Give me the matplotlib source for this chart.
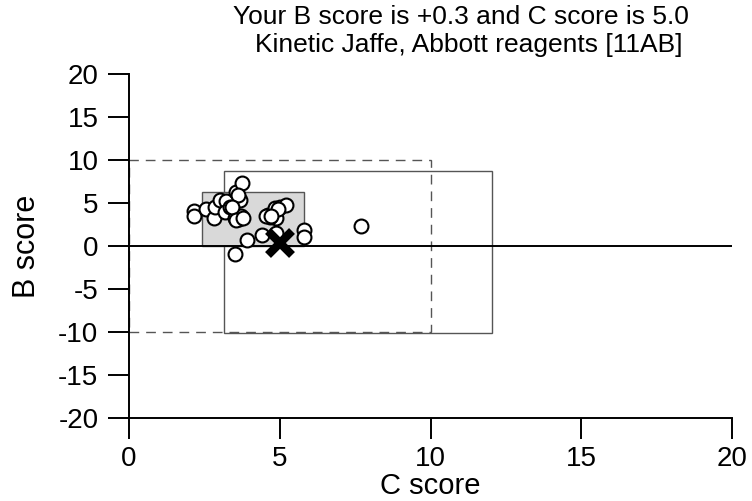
import matplotlib
matplotlib.use("Agg")
import matplotlib.pyplot as plt
from matplotlib.patches import Rectangle

plt.rcParams['font.family'] = ['Liberation Sans', 'DejaVu Sans']

# Peer results (C score, B score)
c_scores = [7.68, 3.53, 3.90, 4.41, 5.81, 5.80, 4.89,
            4.61, 4.83, 5.00, 5.22, 4.89, 4.67, 4.56, 4.94, 4.72,
            2.15, 2.15, 2.55, 2.81, 2.85, 3.01, 3.23, 3.18, 3.34,
            3.56, 3.76, 3.68, 3.51, 3.65, 3.73, 3.62, 3.40, 3.56, 3.78]
b_scores = [2.33, -0.93, 0.73, 1.28, 1.86, 1.08, 1.47,
            3.60, 4.38, 4.57, 4.77, 3.20, 3.40, 3.49, 4.26, 3.49,
            4.07, 3.49, 4.26, 3.20, 4.57, 5.35, 5.23, 3.99, 4.57,
            6.31, 7.36, 5.35, 3.20, 3.14, 3.49, 5.93, 4.57, 3.02, 3.20]

# Own result
own_c = 5.0
own_b = 0.3

# Acceptance limits (dashed), method group range (solid), middle region (grey)
limit_c = (0, 10)
limit_b = (-10, 10)
group_c = (3.15, 12.05)
group_b = (-10.1, 8.7)
core_c = (2.42, 5.8)
core_b = (0.0, 6.28)

x_ticks = [0, 5, 10, 15, 20]
y_ticks = [20, 15, 10, 5, 0, -5, -10, -15, -20]

fig = plt.figure(figsize=(7.52, 5.01), dpi=100)
ax = fig.add_axes([129 / 752, 1 - 418 / 501, (732 - 129) / 752, (418 - 74) / 501])

ax.add_patch(Rectangle((limit_c[0], limit_b[0]), limit_c[1] - limit_c[0], limit_b[1] - limit_b[0],
                       fill=False, edgecolor='#555555', lw=1.0, ls=(0, (7, 5)), zorder=1))
ax.add_patch(Rectangle((group_c[0], group_b[0]), group_c[1] - group_c[0], group_b[1] - group_b[0],
                       fill=False, edgecolor='#555555', lw=1.0, zorder=1))
ax.add_patch(Rectangle((core_c[0], core_b[0]), core_c[1] - core_c[0], core_b[1] - core_b[0],
                       facecolor='#d9d9d9', edgecolor='#555555', lw=1.0, zorder=2))
ax.axhline(0, color='black', lw=1.4, zorder=3)

ax.plot(c_scores, b_scores, 'o', ms=10, mfc='white', mec='black', mew=1.5,
        zorder=4, clip_on=False)
ax.plot([own_c], [own_b], 'x', ms=17, mec='black', mew=6, zorder=5)

ax.set_xlim(0, 20)
ax.set_ylim(-20, 20)
ax.set_xticks(x_ticks)
ax.set_yticks(y_ticks)
ax.set_xticklabels([str(t) for t in x_ticks])
ax.set_yticklabels([str(t) for t in y_ticks])

for side in ('top', 'right'):
    ax.spines[side].set_visible(False)
for side in ('left', 'bottom'):
    ax.spines[side].set_linewidth(1.4)
ax.tick_params(direction='out', length=15, width=1.4, labelsize=20)
ax.tick_params(axis='y', pad=7)
ax.tick_params(axis='x', pad=5)

ax.set_xlabel('C score', fontsize=21, labelpad=0)
ax.set_ylabel('B score', fontsize=22, labelpad=12)

fig.text(461 / 752, 1 - 17 / 501, 'Your B score is +0.3 and C score is 5.0',
         ha='center', va='center', fontsize=19)
fig.text(469 / 752, 1 - 45 / 501, 'Kinetic Jaffe, Abbott reagents [11AB]',
         ha='center', va='center', fontsize=19)

fig.savefig('out.png', dpi=100)
